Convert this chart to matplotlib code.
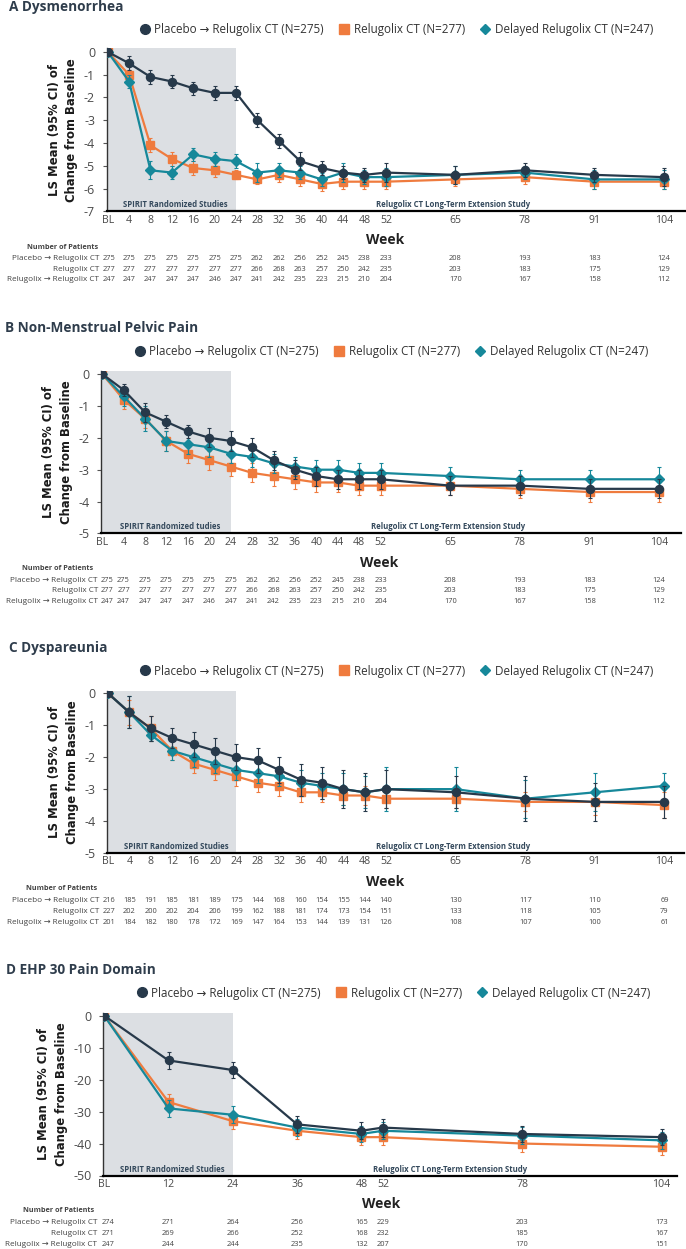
import matplotlib
matplotlib.use("Agg")
import matplotlib.pyplot as plt
from matplotlib.lines import Line2D
import matplotlib.transforms as mtransforms

plt.rcParams['axes.unicode_minus'] = False
FONT = ['Open Sans', 'DejaVu Sans']
plt.rcParams['font.family'] = FONT

# ---------------- data ----------------
weeks_long = [0, 4, 8, 12, 16, 20, 24, 28, 32, 36, 40, 44, 48, 52, 65, 78, 91, 104]
weeks_ehp = [0, 12, 24, 36, 48, 52, 78, 104]
week_labels_long = ['BL', '4', '8', '12', '16', '20', '24', '28', '32', '36', '40', '44', '48', '52', '65', '78', '91', '104']
week_labels_ehp = ['BL', '12', '24', '36', '48', '52', '78', '104']

series_names = ['Placebo \u2192 Relugolix CT (N=275)', 'Relugolix CT (N=277)', 'Delayed Relugolix CT (N=247)']
row_labels = ['Placebo \u2192 Relugolix CT', 'Relugolix CT', 'Relugolix \u2192 Relugolix CT']

# A Dysmenorrhea
dys_placebo = [0, -0.5, -1.1, -1.3, -1.6, -1.8, -1.8, -3.0, -3.9, -4.8, -5.1, -5.3, -5.4, -5.3, -5.4, -5.2, -5.4, -5.5]
dys_relugolix = [0, -1.0, -4.1, -4.7, -5.1, -5.2, -5.4, -5.6, -5.4, -5.6, -5.8, -5.7, -5.7, -5.7, -5.6, -5.5, -5.7, -5.7]
dys_delayed = [0, -1.3, -5.2, -5.3, -4.5, -4.7, -4.8, -5.3, -5.2, -5.3, -5.6, -5.3, -5.5, -5.5, -5.4, -5.3, -5.6, -5.6]
dys_placebo_ci = [0, 0.3, 0.3, 0.3, 0.3, 0.3, 0.3, 0.3, 0.3, 0.4, 0.3, 0.3, 0.3, 0.4, 0.4, 0.3, 0.3, 0.4]
dys_relugolix_ci = [0, 0.2, 0.3, 0.3, 0.3, 0.3, 0.2, 0.2, 0.3, 0.3, 0.3, 0.3, 0.3, 0.3, 0.3, 0.3, 0.3, 0.3]
dys_delayed_ci = [0, 0.3, 0.4, 0.3, 0.3, 0.3, 0.3, 0.4, 0.3, 0.3, 0.3, 0.4, 0.3, 0.4, 0.4, 0.3, 0.4, 0.4]

# B Non-Menstrual Pelvic Pain
nmpp_placebo = [0, -0.5, -1.2, -1.5, -1.8, -2.0, -2.1, -2.3, -2.7, -3.0, -3.2, -3.3, -3.3, -3.3, -3.5, -3.5, -3.6, -3.6]
nmpp_relugolix = [0, -0.8, -1.4, -2.1, -2.5, -2.7, -2.9, -3.1, -3.2, -3.3, -3.4, -3.4, -3.5, -3.5, -3.5, -3.6, -3.7, -3.7]
nmpp_delayed = [0, -0.7, -1.4, -2.1, -2.2, -2.3, -2.5, -2.6, -2.8, -2.9, -3.0, -3.0, -3.1, -3.1, -3.2, -3.3, -3.3, -3.3]
nmpp_placebo_ci = [0, 0.2, 0.3, 0.2, 0.2, 0.3, 0.3, 0.3, 0.3, 0.3, 0.3, 0.3, 0.3, 0.3, 0.3, 0.3, 0.3, 0.3]
nmpp_relugolix_ci = [0, 0.3, 0.3, 0.3, 0.3, 0.3, 0.3, 0.3, 0.3, 0.3, 0.3, 0.3, 0.3, 0.3, 0.3, 0.3, 0.3, 0.3]
nmpp_delayed_ci = [0, 0.3, 0.4, 0.3, 0.3, 0.3, 0.3, 0.3, 0.3, 0.3, 0.3, 0.3, 0.3, 0.3, 0.3, 0.3, 0.3, 0.4]

# C Dyspareunia
dysp_placebo = [0, -0.6, -1.1, -1.4, -1.6, -1.8, -2.0, -2.1, -2.4, -2.7, -2.8, -3.0, -3.1, -3.0, -3.1, -3.3, -3.4, -3.4]
dysp_relugolix = [0, -0.6, -1.1, -1.8, -2.2, -2.4, -2.6, -2.8, -2.9, -3.1, -3.1, -3.2, -3.2, -3.3, -3.3, -3.4, -3.4, -3.5]
dysp_delayed = [0, -0.6, -1.3, -1.8, -2.0, -2.2, -2.4, -2.5, -2.6, -2.8, -2.9, -3.0, -3.1, -3.0, -3.0, -3.3, -3.1, -2.9]
dysp_placebo_ci = [0, 0.5, 0.4, 0.3, 0.4, 0.4, 0.4, 0.4, 0.4, 0.5, 0.5, 0.6, 0.6, 0.6, 0.5, 0.7, 0.6, 0.5]
dysp_relugolix_ci = [0, 0.4, 0.4, 0.3, 0.3, 0.3, 0.3, 0.3, 0.3, 0.3, 0.3, 0.3, 0.3, 0.3, 0.3, 0.3, 0.4, 0.4]
dysp_delayed_ci = [0, 0.5, 0.2, 0.3, 0.3, 0.3, 0.3, 0.3, 0.3, 0.4, 0.4, 0.5, 0.5, 0.7, 0.7, 0.6, 0.6, 0.4]

# D EHP 30 Pain Domain
ehp_placebo = [0, -14, -17, -34, -36, -35, -37, -38]
ehp_relugolix = [0, -27, -33, -36, -38, -38, -40, -41]
ehp_delayed = [0, -29, -31, -35, -37, -36, -37.5, -39]
ehp_placebo_ci = [0, 2.7, 2.6, 2.6, 2.7, 2.8, 2.5, 2.5]
ehp_relugolix_ci = [0, 2.6, 2.6, 2.5, 2.5, 2.5, 2.5, 2.6]
ehp_delayed_ci = [0, 2.7, 2.7, 2.6, 2.6, 2.6, 2.6, 2.6]

# Number of patients
n_ab_placebo = [275, 275, 275, 275, 275, 275, 275, 262, 262, 256, 252, 245, 238, 233, 208, 193, 183, 124]
n_ab_relugolix = [277, 277, 277, 277, 277, 277, 277, 266, 268, 263, 257, 250, 242, 235, 203, 183, 175, 129]
n_ab_delayed = [247, 247, 247, 247, 247, 246, 247, 241, 242, 235, 223, 215, 210, 204, 170, 167, 158, 112]
n_c_placebo = [216, 185, 191, 185, 181, 189, 175, 144, 168, 160, 154, 155, 144, 140, 130, 117, 110, 69]
n_c_relugolix = [227, 202, 200, 202, 204, 206, 199, 162, 188, 181, 174, 173, 154, 151, 133, 118, 105, 79]
n_c_delayed = [201, 184, 182, 180, 178, 172, 169, 147, 164, 153, 144, 139, 131, 126, 108, 107, 100, 61]
n_d_placebo = [274, 271, 264, 256, 165, 229, 203, 173]
n_d_relugolix = [271, 269, 266, 252, 168, 232, 185, 167]
n_d_delayed = [247, 244, 244, 235, 132, 207, 170, 151]

# ---------------- style ----------------
W, H = 686, 1249
C_PLA = '#27394a'
C_REL = '#ef7b3e'
C_DEL = '#16889a'
C_GRAY = '#dcdfe3'
C_TXT = '#2f3d4c'
C_TICK = '#4a4a4a'

fig = plt.figure(figsize=(W / 100, H / 100), dpi=100)


def fx(px):
    return px / W


def fy(py):
    return 1 - py / H


def panel(title, weeks, labels, series, cis, counts, yticks, ymin, ymax_pad,
          bl_px, ppw, xr_px, y0_px, ppu, title_y, title_x, leg_y, leg_right,
          week_y, week_x, nop_y, nop_right, rows_y, row_right, num_shift, spirit_text):
    # axes geometry
    xl = -0.15
    left_px = bl_px + xl * ppw
    xr = (xr_px - bl_px) / ppw
    top_px = y0_px - ymax_pad * ppu
    bot_px = y0_px - ymin * ppu
    ax = fig.add_axes([fx(left_px), fy(bot_px), fx(xr_px - left_px), (bot_px - top_px) / H])
    ax.set_xlim(xl, xr)
    ax.set_ylim(ymin, ymax_pad)
    ax.axvspan(xl, 24, color=C_GRAY, lw=0, zorder=0)

    colors = [C_PLA, C_REL, C_DEL]
    markers = ['o', 's', 'D']
    msizes = [5.8, 5.2, 4.6]
    zorders = [5, 3, 4]
    for vals, ci, c, m, ms, z in zip(series, cis, colors, markers, msizes, zorders):
        ax.errorbar(weeks, vals, yerr=ci, color=c, lw=1.6, marker=m, ms=ms,
                    mec=c, mfc=c, elinewidth=0.8, capsize=1.6, capthick=0.8,
                    ecolor=c, zorder=z)

    for s in ['top', 'right']:
        ax.spines[s].set_visible(False)
    ax.spines['bottom'].set_linewidth(1.6)
    ax.spines['bottom'].set_color('black')
    ax.spines['left'].set_linewidth(1.0)
    ax.spines['left'].set_color('#333333')
    ax.set_xticks(weeks)
    ax.set_xticklabels(labels)
    ax.tick_params(axis='x', length=0, pad=2.5, labelsize=7.6, labelcolor=C_TICK)
    ax.set_yticks(yticks)
    ax.set_yticklabels([str(t) for t in yticks])
    ax.tick_params(axis='y', length=3, width=0.8, pad=5.5, labelsize=9, labelcolor=C_TICK, color='#555555')

    ax.set_ylabel('LS Mean (95% CI) of\nChange from Baseline', family='DejaVu Sans',
                  fontweight='bold', fontsize=8.4, linespacing=1.45, color='#1a1a1a', labelpad=4)

    # annotations at bottom of axes
    trans = mtransforms.blended_transform_factory(ax.transData, ax.transAxes)
    yfrac = 6.5 / (bot_px - top_px)
    ax.text(12.7, yfrac, spirit_text, transform=trans, ha='center', va='center',
            fontsize=5.6, fontweight='bold', color='#34495c', zorder=6)
    ax.text(64.5, yfrac, 'Relugolix CT Long-Term Extension Study', transform=trans,
            ha='center', va='center', fontsize=5.6, fontweight='bold', color='#34495c', zorder=6)

    # title
    fig.text(fx(title_x), fy(title_y), title, ha='left', va='center', fontsize=9.8,
             fontweight='bold', color=C_TXT)

    # legend
    handles = [Line2D([], [], ls='none', marker=m, color=c, ms=s)
               for m, c, s in zip(['o', 's', 'D'], colors, [7, 7, 5])]
    leg = fig.legend(handles, series_names, loc='center right',
                     bbox_to_anchor=(fx(leg_right), fy(leg_y)), ncol=3, frameon=False,
                     fontsize=8.4, handlelength=0.9, handletextpad=0.35, columnspacing=1.3,
                     borderaxespad=0, borderpad=0)
    for t in leg.get_texts():
        t.set_color('#333333')

    # week label
    fig.text(fx(week_x), fy(week_y), 'Week', ha='center', va='center', fontsize=10,
             fontweight='bold', color='#222222')

    # number of patients table
    fig.text(fx(nop_right), fy(nop_y), 'Number of Patients', ha='right', va='center',
             fontsize=5.2, fontweight='bold', color='#444444')
    for ry, lab, cnt in zip(rows_y, row_labels, counts):
        fig.text(fx(row_right), fy(ry), lab, ha='right', va='center', fontsize=5.9,
                 color='#444444', family=FONT)
        for i, (wk, n) in enumerate(zip(weeks, cnt)):
            xp = bl_px + wk * ppw + (num_shift if i == 0 else 0)
            fig.text(fx(xp), fy(ry), str(n), ha='center', va='center',
                     fontsize=5.4, color='#444444')
    return ax


panel('A Dysmenorrhea', weeks_long, week_labels_long,
      [dys_placebo, dys_relugolix, dys_delayed],
      [dys_placebo_ci, dys_relugolix_ci, dys_delayed_ci],
      [n_ab_placebo, n_ab_relugolix, n_ab_delayed],
      [0, -1, -2, -3, -4, -5, -6, -7], -7, 0.15,
      bl_px=107.7, ppw=5.349, xr_px=686, y0_px=51.9, ppu=22.77,
      title_y=7, title_x=9, leg_y=29.3, leg_right=653,
      week_y=240, week_x=385, nop_y=247.3, nop_right=98,
      rows_y=[258.7, 269.2, 279.7], row_right=99, num_shift=1.5,
      spirit_text='SPIRIT Randomized Studies')

panel('B Non-Menstrual Pelvic Pain', weeks_long, week_labels_long,
      [nmpp_placebo, nmpp_relugolix, nmpp_delayed],
      [nmpp_placebo_ci, nmpp_relugolix_ci, nmpp_delayed_ci],
      [n_ab_placebo, n_ab_relugolix, n_ab_delayed],
      [0, -1, -2, -3, -4, -5], -5, 0.08,
      bl_px=102.2, ppw=5.356, xr_px=681, y0_px=374, ppu=31.9,
      title_y=327.7, title_x=5, leg_y=352, leg_right=648,
      week_y=563, week_x=379, nop_y=569, nop_right=93,
      rows_y=[580.5, 591, 601.5], row_right=98, num_shift=5,
      spirit_text='SPIRIT Randomized tudies')

panel('C Dyspareunia', weeks_long, week_labels_long,
      [dysp_placebo, dysp_relugolix, dysp_delayed],
      [dysp_placebo_ci, dysp_relugolix_ci, dysp_delayed_ci],
      [n_c_placebo, n_c_relugolix, n_c_delayed],
      [0, -1, -2, -3, -4, -5], -5, 0.08,
      bl_px=108, ppw=5.35, xr_px=684, y0_px=693.3, ppu=31.94,
      title_y=648, title_x=9, leg_y=671, leg_right=653,
      week_y=882, week_x=385, nop_y=889, nop_right=97,
      rows_y=[901, 911.5, 922], row_right=99, num_shift=1.5,
      spirit_text='SPIRIT Randomized Studies')

panel('D EHP 30 Pain Domain', weeks_ehp, week_labels_ehp,
      [ehp_placebo, ehp_relugolix, ehp_delayed],
      [ehp_placebo_ci, ehp_relugolix_ci, ehp_delayed_ci],
      [n_d_placebo, n_d_relugolix, n_d_delayed],
      [0, -10, -20, -30, -40, -50], -50, 0.75,
      bl_px=104.2, ppw=5.359, xr_px=677, y0_px=1015.7, ppu=3.196,
      title_y=970.5, title_x=6.5, leg_y=993, leg_right=650,
      week_y=1204, week_x=381, nop_y=1211, nop_right=94,
      rows_y=[1223, 1233.5, 1244.5], row_right=97, num_shift=3.5,
      spirit_text='SPIRIT Randomized Studies')

fig.savefig('out.png', dpi=100)
